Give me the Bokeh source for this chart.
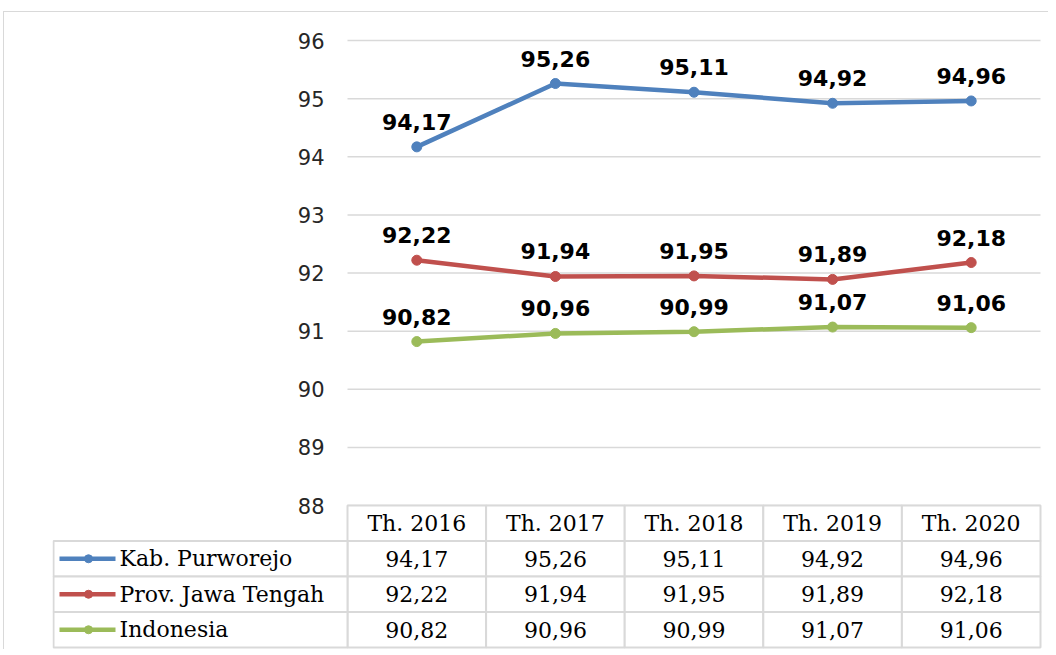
from bokeh.plotting import figure
from bokeh.layouts import column
from bokeh.models import Range1d, FixedTicker
from bokeh.embed import file_html
from bokeh.resources import INLINE
from bokeh.core.properties import value

# ---- data ----
categories = ["Th. 2016", "Th. 2017", "Th. 2018", "Th. 2019", "Th. 2020"]
series_names = ["Kab. Purworejo", "Prov. Jawa Tengah", "Indonesia"]
purworejo = [94.17, 95.26, 95.11, 94.92, 94.96]
jawa_tengah = [92.22, 91.94, 91.95, 91.89, 92.18]
indonesia = [90.82, 90.96, 90.99, 91.07, 91.06]
y_ticks = [88, 89, 90, 91, 92, 93, 94, 95, 96]
colors = ["#4F81BD", "#C0504D", "#9BBB59"]

series = [purworejo, jawa_tengah, indonesia]


def fmt(v):
    return f"{v:.2f}".replace(".", ",")


xs = list(range(len(categories)))
GRID = "#d9d9d9"
SANS = value("DejaVu Sans")
SERIF = value("DejaVu Serif")

# ---- layout constants (px) ----
W, H = 1044, 637
MB_LEFT, MB_RIGHT, MB_TOP = 48, 6, 14
CAT_PX = 693.0                 # width of the five category columns
cw = CAT_PX / len(categories)  # px per category unit
LEGEND_PX = 294.0              # legend column of the data table
PAD_L, PAD_R, PAD_TOP, PAD_BOT = 1.0, 2.0, 14.0, 2.0
PPU = 58.125                   # px per y unit in the chart
ROW_PX = 35.5                  # data table row height
n_rows = len(series) + 1
row_u = ROW_PX / PPU
y_min = y_ticks[0]
y_max = y_ticks[-1]

x_left = -0.5 - LEGEND_PX / cw
x_right = len(categories) - 0.5

p = figure(width=W, height=H, output_backend="svg", toolbar_location=None,
           x_range=Range1d(x_left - PAD_L / cw, x_right + PAD_R / cw),
           y_range=Range1d(y_min - (n_rows * ROW_PX + PAD_BOT) / PPU,
                           y_max + PAD_TOP / PPU),
           x_axis_location=None,
           min_border_left=MB_LEFT, min_border_right=MB_RIGHT,
           min_border_top=MB_TOP, min_border_bottom=0,
           outline_line_color=None, background_fill_color="white",
           border_fill_color="white")

# y axis drawn at the left edge of the category area
p.yaxis.fixed_location = -0.5
p.yaxis.ticker = FixedTicker(ticks=y_ticks)
p.yaxis.axis_line_color = None
p.yaxis.major_tick_line_color = None
p.yaxis.minor_tick_line_color = None
p.yaxis.major_label_text_font = "DejaVu Sans"
p.yaxis.major_label_text_font_size = "21px"
p.yaxis.major_label_text_color = "#262626"
p.yaxis.major_label_standoff = 17
p.xgrid.grid_line_color = None
p.ygrid.grid_line_color = None

# horizontal gridlines over the category area only
p.segment(x0=[-0.5] * len(y_ticks), x1=[x_right] * len(y_ticks),
          y0=y_ticks, y1=y_ticks, line_color=GRID, line_width=1.5)

# series lines, markers and labels
for vals, col in zip(series, colors):
    p.line(xs, vals, line_color=col, line_width=4.5)
    p.scatter(xs, vals, size=10, fill_color=col, line_color=col)
    p.text(xs, vals, text=[fmt(v) for v in vals], text_align="center",
           text_baseline="middle", y_offset=-25, text_font=SANS,
           text_font_style="bold", text_font_size="22px", text_color="black")


def row_top(r):
    return y_min - r * row_u


def row_mid(r):
    return y_min - (r + 0.5) * row_u


# ---- data table: header row ----
p.quad(left=[i - 0.5 for i in xs], right=[i + 0.5 for i in xs],
       top=[row_top(0)] * len(xs), bottom=[row_top(1)] * len(xs),
       fill_color="white", line_color=GRID, line_width=2)
p.text(xs, [row_mid(0)] * len(xs), text=categories, text_align="center",
       text_baseline="middle", text_font=SERIF, text_font_size="22px",
       text_color="black")

# ---- data table: series rows ----
for r, (name, vals, col) in enumerate(zip(series_names, series, colors), start=1):
    p.quad(left=[i - 0.5 for i in xs], right=[i + 0.5 for i in xs],
           top=[row_top(r)] * len(xs), bottom=[row_top(r + 1)] * len(xs),
           fill_color="white", line_color=GRID, line_width=2)
    p.text(xs, [row_mid(r)] * len(xs), text=[fmt(v) for v in vals],
           text_align="center", text_baseline="middle", text_font=SERIF,
           text_font_size="22px", text_color="black")
    # legend cell
    p.quad(left=[x_left], right=[-0.5], top=[row_top(r)], bottom=[row_top(r + 1)],
           fill_color="white", line_color=GRID, line_width=2)
    p.segment(x0=[x_left + 6 / cw], y0=[row_mid(r)], x1=[x_left + 62 / cw],
              y1=[row_mid(r)], line_color=col, line_width=4.5)
    p.scatter([x_left + 35 / cw], [row_mid(r)], size=8, fill_color=col,
              line_color=col)
    p.text([x_left + 66 / cw], [row_mid(r)], text=[name], text_align="left",
           text_baseline="middle", text_font=SERIF, text_font_size="22px",
           text_color="black")

layout = column(p, styles={"border-left": "1px solid #d9d9d9",
                           "border-top": "1px solid #d9d9d9",
                           "margin-left": "3px", "margin-top": "11px"})

open("out.html", "w").write(file_html(layout, INLINE))
